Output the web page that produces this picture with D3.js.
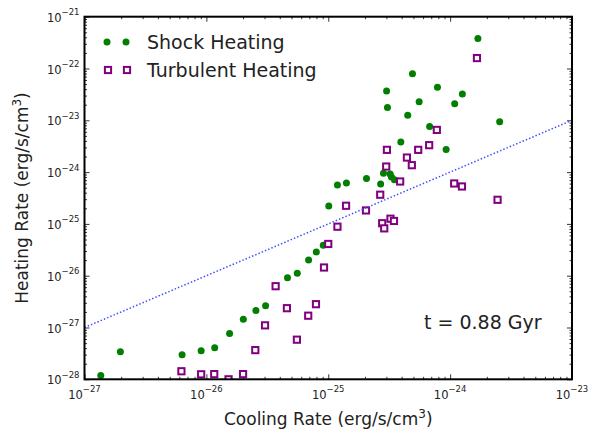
<!DOCTYPE html>
<html>
<head>
<meta charset="utf-8">
<script src="https://cdn.jsdelivr.net/npm/d3@7"></script>
<style>
  body { margin: 0; background: #fff; }
  svg { display: block; font-family: "DejaVu Sans", sans-serif; }
</style>
</head>
<body>
<div id="graph"></div>
<script>
// cooling / heating rates (erg/s/cm^3)
const shockCool = [1.36e-27, 1.97e-27, 6.32e-27, 9.06e-27, 1.17e-26, 1.55e-26, 2.01e-26, 2.55e-26, 3.06e-26,
  4.63e-26, 5.57e-26, 6.90e-26, 7.98e-26, 9.10e-26, 1.01e-25, 1.19e-25, 1.41e-25, 2.06e-25, 2.69e-25,
  2.84e-25, 3.22e-25, 3.30e-25, 3.49e-25, 3.94e-25, 4.49e-25, 3.06e-25, 3.01e-25, 4.91e-25, 5.57e-25,
  7.87e-25, 1.09e-24, 1.26e-24, 6.79e-25, 9.27e-25, 1.69e-24, 2.55e-24]
const shockHeat = [1.19e-28, 3.42e-28, 2.99e-28, 3.57e-28, 4.08e-28, 7.69e-28, 1.45e-27, 2.13e-27, 2.62e-27,
  9.10e-27, 1.11e-26, 2.02e-26, 2.88e-26, 3.85e-26, 2.21e-25, 5.61e-25, 6.14e-25, 7.53e-25, 5.87e-25,
  9.48e-25, 9.14e-25, 8.02e-25, 7.11e-25, 3.83e-24, 1.25e-23, 1.77e-23, 3.67e-23, 7.93e-23, 2.29e-23,
  4.34e-23, 2.09e-23, 3.22e-23, 7.55e-24, 2.72e-24, 3.80e-22, 9.38e-24]

const turbCool = [6.24e-27, 9.06e-27, 1.16e-26, 1.52e-26, 2.00e-26, 2.52e-26, 3.03e-26, 3.70e-26, 4.58e-26,
  5.53e-26, 6.85e-26, 7.93e-26, 9.23e-26, 1.00e-25, 1.19e-25, 1.40e-25, 2.04e-25, 2.67e-25, 2.77e-25,
  2.88e-25, 3.24e-25, 3.46e-25, 2.99e-25, 3.03e-25, 3.89e-25, 4.42e-25, 4.85e-25, 5.47e-25, 6.73e-25,
  7.78e-25, 1.08e-24, 1.25e-24, 2.45e-24, 1.66e-24]
const turbHeat = [1.43e-28, 1.25e-28, 1.26e-28, 1.00e-28, 1.26e-28, 3.66e-28, 1.10e-27, 6.27e-27, 2.36e-27,
  5.82e-28, 1.69e-27, 2.82e-27, 1.44e-26, 4.10e-26, 8.83e-26, 2.24e-25, 1.82e-25, 3.66e-25, 1.03e-25,
  8.20e-26, 1.26e-25, 1.14e-25, 1.28e-24, 2.69e-24, 6.59e-25, 1.91e-24, 1.36e-24, 2.69e-24, 3.31e-24,
  6.52e-24, 6.03e-25, 5.28e-25, 2.92e-25, 1.59e-22]

const xDomain = [1e-27, 1e-23]
const yDomain = [1e-28, 1e-21]
const xExps = [-27, -26, -25, -24, -23]
const yExps = [-28, -27, -26, -25, -24, -23, -22, -21]
const seriesNames = ["Shock Heating", "Turbulent Heating"]
const timeLabel = "t = 0.88 Gyr"

const width = 598
const height = 430
const marginTop = 16.7
const marginRight = 26
const marginBottom = 50.7
const marginLeft = 84.5

const green = "#007f00"
const purple = "#800080"

const x = d3.scaleLog()
            .domain(xDomain)
            .range([marginLeft, width - marginRight])

const y = d3.scaleLog()
            .domain(yDomain)
            .range([height - marginBottom, marginTop])

const svg = d3.create("svg")
              .attr("width", width)
              .attr("height", height)

svg.append("defs")
   .append("clipPath")
   .attr("id", "plot-clip")
   .append("rect")
   .attr("x", marginLeft)
   .attr("y", marginTop)
   .attr("width", width - marginLeft - marginRight)
   .attr("height", height - marginTop - marginBottom)

// minor + major ticks, pointing inwards on every side
const minorX = x.ticks().filter(v => !xExps.includes(Math.round(Math.log10(v) * 1000) / 1000))
const minorY = y.ticks().filter(v => !yExps.includes(Math.round(Math.log10(v) * 1000) / 1000))
const majorX = xExps.map(e => Math.pow(10, e))
const majorY = yExps.map(e => Math.pow(10, e))

const tickAxis = (axis, values, size) => axis.tickValues(values).tickSize(-size).tickFormat("")

const axes = svg.append("g").attr("class", "ticks")
const addAxis = (gen, tx, ty) => {
  axes.append("g")
      .attr("transform", `translate(${tx},${ty})`)
      .call(gen)
      .call(g => g.select(".domain").remove())
      .call(g => g.selectAll("line").attr("stroke", "#000").attr("stroke-width", 0.8))
}
const bottomY = height - marginBottom
const rightX = width - marginRight
addAxis(tickAxis(d3.axisBottom(x), majorX, 5), 0, bottomY)
addAxis(tickAxis(d3.axisBottom(x), minorX, 2.5), 0, bottomY)
addAxis(tickAxis(d3.axisTop(x), majorX, 5), 0, marginTop)
addAxis(tickAxis(d3.axisTop(x), minorX, 2.5), 0, marginTop)
addAxis(tickAxis(d3.axisLeft(y), majorY, 5), marginLeft, 0)
addAxis(tickAxis(d3.axisLeft(y), minorY, 2.5), marginLeft, 0)
addAxis(tickAxis(d3.axisRight(y), majorY, 5), rightX, 0)
addAxis(tickAxis(d3.axisRight(y), minorY, 2.5), rightX, 0)

// tick labels as 10^n
const xLabels = svg.append("g")
   .selectAll("text")
   .data(xExps)
   .join("text")
   .attr("x", d => x(Math.pow(10, d)))
   .attr("y", bottomY + 19.5)
   .attr("text-anchor", "middle")
   .attr("font-size", 11.5)
   .attr("fill", "#222")
xLabels.append("tspan").text("10")
xLabels.append("tspan").attr("dy", -6.5).attr("font-size", 8.5).text(d => "\u2212" + (-d))

const yLabels = svg.append("g")
   .selectAll("text")
   .data(yExps)
   .join("text")
   .attr("x", marginLeft - 5)
   .attr("y", d => y(Math.pow(10, d)) + 5)
   .attr("text-anchor", "end")
   .attr("font-size", 11.5)
   .attr("fill", "#222")
yLabels.append("tspan").text("10")
yLabels.append("tspan").attr("dy", -6.5).attr("font-size", 8.5).text(d => "\u2212" + (-d))

// axis titles
const xTitle = svg.append("text")
   .attr("x", (marginLeft + rightX) / 2)
   .attr("y", 425)
   .attr("text-anchor", "middle")
   .attr("font-size", 17)
   .attr("fill", "#222")
xTitle.append("tspan").text("Cooling Rate (erg/s/cm")
xTitle.append("tspan").attr("dy", -7.5).attr("font-size", 12).text("3")
xTitle.append("tspan").attr("dy", 7.5).text(")")

const yTitle = svg.append("text")
   .attr("transform", `translate(28, ${(marginTop + bottomY) / 2}) rotate(-90)`)
   .attr("text-anchor", "middle")
   .attr("font-size", 17)
   .attr("fill", "#222")
yTitle.append("tspan").text("Heating Rate (erg/s/cm")
yTitle.append("tspan").attr("dy", -7.5).attr("font-size", 12).text("3")
yTitle.append("tspan").attr("dy", 7.5).text(")")

// points
const plot = svg.append("g").attr("clip-path", "url(#plot-clip)")

plot.append("g")
    .selectAll("circle")
    .data(d3.zip(shockCool, shockHeat))
    .join("circle")
    .attr("cx", d => x(d[0]))
    .attr("cy", d => y(d[1]))
    .attr("r", 3.5)
    .attr("fill", green)

const sq = 6.2
plot.append("g")
    .selectAll("rect")
    .data(d3.zip(turbCool, turbHeat))
    .join("rect")
    .attr("x", d => x(d[0]) - sq / 2)
    .attr("y", d => y(d[1]) - sq / 2)
    .attr("width", sq)
    .attr("height", sq)
    .attr("fill", "#fff")
    .attr("stroke", purple)
    .attr("stroke-width", 2)

// heating = cooling
plot.append("line")
    .attr("x1", x(xDomain[0]))
    .attr("y1", y(xDomain[0]))
    .attr("x2", x(xDomain[1]))
    .attr("y2", y(xDomain[1]))
    .attr("stroke", "#4050ff")
    .attr("stroke-width", 1.5)
    .attr("stroke-dasharray", "1.5,2")

// frame
svg.append("rect")
   .attr("x", marginLeft)
   .attr("y", marginTop)
   .attr("width", rightX - marginLeft)
   .attr("height", bottomY - marginTop)
   .attr("fill", "none")
   .attr("stroke", "#000")
   .attr("stroke-width", 2)

// legend
const legend = svg.append("g")
const lx = [107, 126]
legend.selectAll("circle")
      .data(lx)
      .join("circle")
      .attr("cx", d => d)
      .attr("cy", 42)
      .attr("r", 3.5)
      .attr("fill", green)
legend.selectAll("rect")
      .data(lx)
      .join("rect")
      .attr("x", d => d - sq / 2 + 1)
      .attr("y", 70 - sq / 2)
      .attr("width", sq)
      .attr("height", sq)
      .attr("fill", "#fff")
      .attr("stroke", purple)
      .attr("stroke-width", 2)
legend.selectAll("text")
      .data(seriesNames)
      .join("text")
      .attr("x", 147)
      .attr("y", (d, i) => 49 + i * 28)
      .attr("font-size", 19)
      .attr("fill", "#222")
      .text(d => d)

svg.append("text")
   .attr("x", 424)
   .attr("y", 329)
   .attr("font-size", 19)
   .attr("fill", "#222")
   .text(timeLabel)

graph.append(svg.node())
</script>
</body>
</html>
